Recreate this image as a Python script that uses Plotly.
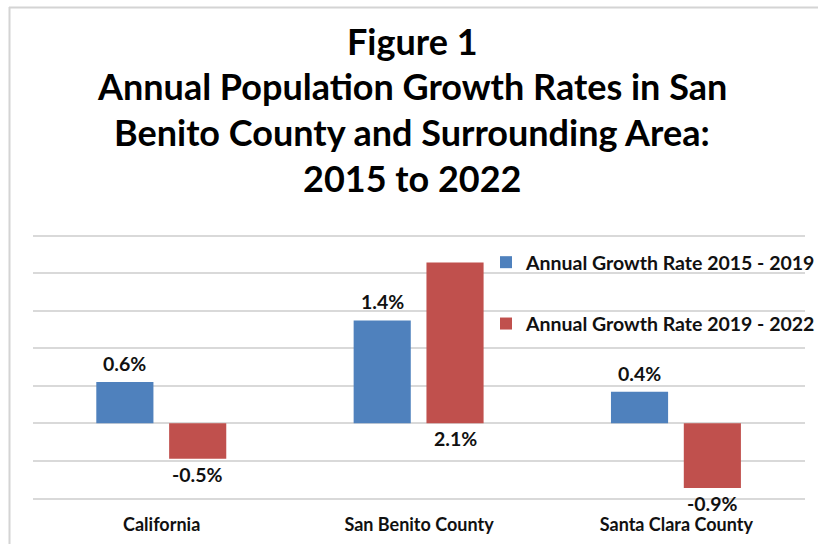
import plotly.graph_objects as go

categories = ["California", "San Benito County", "Santa Clara County"]
series_names = ["Annual Growth Rate 2015 - 2019", "Annual Growth Rate 2019 - 2022"]
rate_2015_2019 = [0.55, 1.37, 0.42]
rate_2019_2022 = [-0.47, 2.14, -0.86]
labels_2015_2019 = ["0.6%", "1.4%", "0.4%"]
labels_2019_2022 = ["-0.5%", "2.1%", "-0.9%"]
title_lines = ["Figure 1", "Annual Population Growth Rates in San",
               "Benito County and Surrounding Area:", "2015 to 2022"]

BLUE = "#4F81BD"
RED = "#C0504D"
FONT = "Lato, 'Open Sans', sans-serif"

W, H = 818, 544
ML, MR, MT, MB = 33, 13, 234, 44
PW, PH = W - ML - MR, H - MT - MB

def px_x(p):
    return (p - ML) / PW

def px_y(p):
    return (H - MB - p) / PH

bar_w = 0.222
off_blue = -0.254
off_red = 0.029
xs = list(range(len(categories)))

fig = go.Figure()
fig.add_trace(go.Bar(x=xs, y=rate_2015_2019, name="<b>" + series_names[0] + "</b>",
                     width=bar_w, offset=off_blue,
                     marker=dict(color=BLUE, line=dict(width=0)), legendgroup="a"))
fig.add_trace(go.Bar(x=xs, y=rate_2019_2022, name="<b>" + series_names[1] + "</b>",
                     width=bar_w, offset=off_red,
                     marker=dict(color=RED, line=dict(width=0)), legendgroup="b"))

annotations = []
lab_font = dict(family=FONT, size=19.5, color="#111111")
for i, (v, t) in enumerate(zip(rate_2015_2019, labels_2015_2019)):
    annotations.append(dict(x=i + off_blue + bar_w / 2, y=v, xref="x", yref="y",
                            text="<b>" + t + "</b>", showarrow=False,
                            yanchor="bottom", yshift=5, font=lab_font))
for i, (v, t) in enumerate(zip(rate_2019_2022, labels_2019_2022)):
    yy = v if v < 0 else 0
    annotations.append(dict(x=i + off_red + bar_w / 2, y=yy, xref="x", yref="y",
                            text="<b>" + t + "</b>", showarrow=False,
                            yanchor="top", yshift=-2, font=lab_font))

title_centers = [41, 86, 132, 178]
for line, c in zip(title_lines, title_centers):
    annotations.append(dict(x=px_x(412), y=px_y(c), xref="paper", yref="paper",
                            text="<b>" + line + "</b>", showarrow=False,
                            xanchor="center", yanchor="middle",
                            font=dict(family=FONT, size=36, color="#000000")))

shapes = [
    dict(type="line", xref="paper", yref="paper", x0=px_x(9), x1=px_x(830),
         y0=px_y(7.5), y1=px_y(7.5), line=dict(color="#D4D4D4", width=2)),
    dict(type="line", xref="paper", yref="paper", x0=px_x(9.5), x1=px_x(9.5),
         y0=px_y(7), y1=px_y(560), line=dict(color="#D4D4D4", width=2)),
]

fig.update_layout(
    width=W, height=H,
    margin=dict(l=ML, r=MR, t=MT, b=MB, autoexpand=False),
    paper_bgcolor="white", plot_bgcolor="white",
    barmode="overlay",
    showlegend=True,
    legend=dict(x=px_x(486), y=px_y(243), xanchor="left", yanchor="top",
                bgcolor="rgba(0,0,0,0)", tracegroupgap=33,
                font=dict(family=FONT, size=19.5, color="#111111"),
                traceorder="grouped"),
    xaxis=dict(range=[-0.5, 2.5], tickvals=xs,
               ticktext=["<b>" + c + "</b>" for c in categories],
               showgrid=False, zeroline=False, showline=False, ticks="",
               ticklabelstandoff=12,
               tickfont=dict(family=FONT, size=18, color="#111111")),
    yaxis=dict(range=[-1.02, 2.52], tickvals=[-1.0, -0.5, 0, 0.5, 1.0, 1.5, 2.0, 2.5],
               showticklabels=False,
               showgrid=True, gridcolor="#D9D9D9", gridwidth=1.5,
               zeroline=True, zerolinecolor="#D9D9D9", zerolinewidth=1.5,
               showline=False, ticks=""),
    annotations=annotations,
    shapes=shapes,
)

fig.write_html("out.html")
